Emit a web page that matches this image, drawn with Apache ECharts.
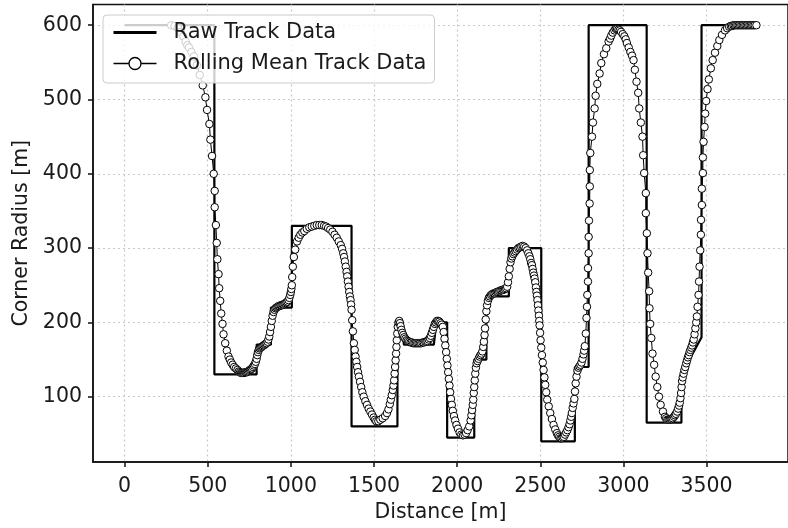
<!DOCTYPE html>
<html>
<head>
<meta charset="utf-8">
<script src="https://cdn.jsdelivr.net/npm/echarts@6/dist/echarts.min.js"></script>
<style>
html,body{margin:0;padding:0;background:#ffffff;}
#chart{width:788px;height:528px;}
</style>
</head>
<body>
<div id="chart"></div>
<script>
// ---- data ----
const xTicks = [0, 500, 1000, 1500, 2000, 2500, 3000, 3500];
const yTicks = [100, 200, 300, 400, 500, 600];

const rawDistance = [0, 540, 540, 794, 794, 880, 880, 1006, 1006, 1365, 1365, 1641, 1641, 1665, 1680, 1860, 1875, 1940, 1940, 2103, 2103, 2176, 2176, 2311, 2311, 2506, 2506, 2708, 2708, 2791, 2791, 3140, 3140, 3349, 3349, 3470, 3470, 3800];
const rawRadius   = [600, 600, 130, 130, 170, 170, 220, 220, 330, 330, 60, 60, 200, 200, 170, 170, 200, 200, 45, 45, 150, 150, 235, 235, 300, 300, 40, 40, 140, 140, 600, 600, 65, 65, 130, 180, 600, 600];

// rolling mean: [distance, radius]
const rollingMean = [
[280,600],[300,599],[320,596],[338,591],[353,585],[367,578],[377,573],[387,570],[402,564],[417,558],[435,546],[452,533],[470,519],[486,503],[496,486],[510,467],[516,446],[526,424],[536,400],[542,377],[542,355],[549,331],[554,307],[558,285],[565,265],[569,246],[575,229],[581,212],[589,198],[595,184],[605,172],[615,162],[625,154],[633,150],[641,146],[650,143],[659,140],[669,138],[679,136],[687,134],[694,133],
[700,132],[706,132],[712,132],[718,132],[724,133],[730,133],[736,133],[742,134],[748,135],[754,136],[760,137],[766,138],[772,140],[778,142],[784,144],[789,147],[794,151],[798,156],[802,160],[807,163],[812,165],[818,166],[824,167],[830,168],[836,169],[842,170],[848,171],[854,172],[860,174],[865,177],[870,181],[875,187],[880,194],[885,202],[890,209],[896,214],[902,217],[908,219],[914,220],[920,221],[926,222],[932,222],[938,223],[944,223],[950,224],[956,224],[962,225],[968,226],[974,227],[980,228],[986,230],[991,233],[996,237],[1000,241],[1003,245],[1006,250],
[1008,261],[1012,275],[1018,288],[1026,298],[1037,309],[1047,314],[1057,318],[1069,321],[1081,323],[1096,326],[1111,328],[1126,329],[1141,330],[1156,331],[1171,331],[1186,331],[1200,330],[1212,329],[1224,327],[1237,325],[1250,322],[1263,318],[1276,314],[1288,309],[1300,304],[1308,299],[1315,293],[1320,288],[1325,282],[1330,275],[1335,268],[1339,262],[1343,255],[1347,248],[1351,241],[1355,235],[1359,230],[1362,224],[1365,217],[1369,203],[1373,188],[1379,172],[1384,163],[1389,154],[1394,147],[1399,140],[1404,133],[1409,127],[1416,120],[1423,113],[1430,106],[1438,100],[1448,94],[1458,89],[1468,84],[1478,80],[1488,76],[1498,72],[1506,69],[1514,67],[1526,67],[1538,69],[1552,71],[1567,74],[1578,78],[1587,83],[1595,90],[1601,96],[1607,102],[1613,109],[1617,115],[1621,122],[1624,131],[1627,140],[1630,149],[1633,158],[1635,167],[1637,176],[1640,185],[1643,194],[1647,200],[1652,202],
[1656,199],[1660,195],[1665,190],[1670,186],[1676,183],[1682,180],[1689,178],[1696,176],[1704,175],[1712,174],[1720,173],[1728,173],[1736,172],[1744,172],[1752,172],[1760,172],[1768,172],[1776,172],[1784,172],[1792,173],[1800,173],[1808,174],[1815,174],[1822,175],[1829,177],[1836,179],[1842,182],[1848,186],[1854,190],[1860,194],[1866,198],[1872,200],[1879,202],[1886,202],[1893,201],[1900,199],[1907,197],[1914,194],[1919,187],[1924,178],[1929,169],[1934,160],[1938,151],[1942,142],[1946,133],[1950,124],[1954,115],[1958,106],[1963,97],[1968,89],[1974,81],[1981,74],[1988,68],[1996,62],[2005,57],[2015,52],[2025,49],[2035,48],[2045,49],[2054,51],
[2063,55],[2073,60],[2081,68],[2086,75],[2090,82],[2094,89],[2097,96],[2100,105],[2103,113],[2106,122],[2109,131],[2113,139],[2117,145],[2123,148],[2129,151],[2135,154],[2141,156],[2147,158],[2152,161],[2157,167],[2161,174],[2165,183],[2168,192],[2172,204],[2176,215],[2180,223],[2185,229],[2191,233],[2197,235],[2204,237],[2211,238],[2218,239],[2225,239],[2232,240],[2239,241],[2246,241],[2253,242],[2260,243],[2267,243],[2274,244],[2281,244],[2288,245],[2295,246],[2301,248],[2306,254],[2311,262],[2316,272],[2321,281],[2326,286],[2332,289],[2338,292],[2345,294],[2352,296],[2360,298],[2368,300],[2376,301],[2385,302],[2394,303],[2403,302],[2412,300],[2421,297],[2428,293],[2435,289],[2440,285],[2445,280],[2450,277],[2454,272],[2458,267],[2462,263],[2466,259],[2470,254],[2474,247],[2477,241],[2480,236],[2483,230],[2486,223],[2489,216],[2492,209],[2494,202],[2496,196],[2499,186],[2502,176],[2506,166],
[2510,156],[2515,146],[2520,136],[2525,126],[2530,116],[2536,106],[2542,96],[2551,87],[2560,78],[2570,70],[2580,62],[2590,56],[2600,51],[2607,48],[2614,46],[2621,44],[2628,44],[2635,45],[2642,46],[2649,49],[2656,52],[2663,55],[2670,59],[2676,63],[2681,68],[2686,73],[2690,78],[2695,85],[2700,91],[2705,97],[2709,107],[2713,118],[2718,127],[2724,135],[2730,139],[2736,141],[2742,143],[2748,146],[2754,151],[2760,157],[2764,162],[2768,168],[2774,185],[2778,206],[2781,221],[2783,237],[2787,255],[2787,273],[2791,293],[2791,315],[2793,337],[2797,360],[2798,383],[2798,405],[2801,428],[2811,450],[2817,469],[2827,488],[2833,505],[2843,521],[2857,535],[2867,549],[2883,561],[2897,569],[2911,578],[2920,582],[2927,586],[2936,590],[2946,593],[2954,595],[2962,595],[2970,594],[2978,593],[2986,591],[2996,588],[3006,585],[3014,581],[3021,576],[3032,570],[3042,564],[3052,559],[3061,553],[3069,540],[3079,524],[3089,509],[3095,488],[3105,469],[3115,450],[3119,425],[3125,401],[3135,374],[3135,347],[3141,320],[3145,293],[3149,267],[3155,242],[3157,219],[3161,198],[3168,179],[3175,158],[3185,143],[3194,127],[3204,113],[3214,100],[3224,89],[3238,80],[3250,73],[3257,71],[3264,69],[3271,69],[3278,69],[3284,70],[3290,70],[3297,71],[3304,73],[3310,75],[3316,77],[3323,80],[3329,84],[3335,88],[3339,92],[3343,98],[3347,105],[3350,113],[3353,121],[3357,126],[3362,131],[3367,136],[3372,140],[3378,145],[3383,149],[3388,153],[3393,156],[3398,160],[3403,163],[3408,166],[3413,169],[3418,173],[3423,177],[3428,184],[3433,192],[3438,200],[3442,208],[3446,221],[3452,237],[3455,255],[3458,275],[3462,297],[3466,318],[3467,338],[3472,358],[3472,380],[3478,401],[3478,422],[3482,443],[3488,463],[3492,481],[3498,498],[3506,514],[3514,527],[3526,542],[3537,553],[3551,563],[3565,572],[3577,580],[3593,587],[3611,593],[3624,596],[3636,598],[3646,599],[3654,599],[3662,600],[3670,600],[3678,600],[3686,600],[3694,600],[3702,600],[3710,600],[3718,600],[3726,600],[3734,600],[3742,600],[3750,600],[3758,600],[3766,600],[3774,600],[3782,600],[3790,600],[3800,600]
];

// ---- chart ----
const rawData = rawDistance.map((d, i) => [d, rawRadius[i]]);
const FONT = '"DejaVu Sans", "Liberation Sans", sans-serif';
const TXT = '#1a1a1a';
const plain = v => String(v);
const chart = echarts.init(document.getElementById('chart'), null, {renderer: 'canvas'});
chart.setOption({
  animation: false,
  backgroundColor: '#ffffff',
  grid: {left: 93, top: 4.4, right: -7.3, bottom: 65.9, show: true, borderColor: '#111', borderWidth: 1.5, backgroundColor: 'transparent'},
  legend: {
    left: 103, top: 15, orient: 'vertical',
    itemWidth: 43, itemHeight: 15, itemGap: 10,
    padding: [7, 8, 9, 9],
    backgroundColor: 'rgba(255,255,255,0.8)', borderColor: '#cccccc', borderWidth: 1, borderRadius: 4,
    textStyle: {fontFamily: FONT, fontSize: 21, color: TXT, lineHeight: 21, padding: [0, 0, 0, 12]},
    data: [
      {name: 'Raw Track Data', itemStyle: {opacity: 0}, lineStyle: {width: 3}},
      {name: 'Rolling Mean Track Data', itemStyle: {borderWidth: 1.3}, lineStyle: {width: 1.5}}
    ]
  },
  xAxis: {
    type: 'value', min: -190, max: 3990,
    name: 'Distance [m]', nameLocation: 'middle', nameGap: 32,
    nameTextStyle: {fontFamily: FONT, fontSize: 20.5, color: TXT},
    axisLine: {show: true, onZero: false, lineStyle: {color: '#111', width: 1.5}},
    axisTick: {show: true, customValues: xTicks, length: 5, lineStyle: {color: '#111', width: 1.5}},
    axisLabel: {customValues: xTicks, formatter: plain, margin: 14, fontFamily: FONT, fontSize: 20.5, color: TXT},
    splitLine: {show: true, lineStyle: {color: '#c8c8c8', type: [2, 3], width: 1.2}}
  },
  yAxis: {
    type: 'value', min: 12, max: 628,
    name: 'Corner Radius [m]', nameLocation: 'middle', nameGap: 54, nameRotate: 90,
    nameTextStyle: {fontFamily: FONT, fontSize: 20.5, color: TXT},
    axisLine: {show: true, onZero: false, lineStyle: {color: '#111', width: 1.5}},
    axisTick: {show: true, customValues: yTicks, length: 5, lineStyle: {color: '#111', width: 1.5}},
    axisLabel: {customValues: yTicks, formatter: plain, margin: 11, fontFamily: FONT, fontSize: 20.5, color: TXT},
    splitLine: {show: true, lineStyle: {color: '#c8c8c8', type: [2, 3], width: 1.2}}
  },
  series: [
    {
      name: 'Raw Track Data', type: 'line', data: rawData,
      symbol: 'none', lineStyle: {color: '#000', width: 2.2}, itemStyle: {color: '#000'},
      z: 2, silent: true, emphasis: {disabled: true}
    },
    {
      name: 'Rolling Mean Track Data', type: 'line', data: rollingMean,
      symbol: 'circle', symbolSize: 7.5, showSymbol: true,
      itemStyle: {color: '#ffffff', borderColor: '#000', borderWidth: 1},
      lineStyle: {color: '#000', width: 1},
      z: 3, silent: true, emphasis: {disabled: true}
    }
  ]
});
</script>
</body>
</html>
